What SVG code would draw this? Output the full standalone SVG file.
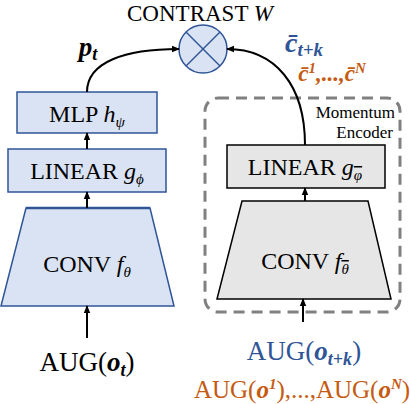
<svg xmlns="http://www.w3.org/2000/svg" width="410" height="404" viewBox="0 0 410 404">
<style>
text{font-family:"Liberation Serif","Times New Roman",serif;fill:#000}
.lbl{font-size:24px}
.it{font-style:italic}
.bi{font-style:italic;font-weight:bold}
.blue{fill:#2f5597}
.orange{fill:#c55a11}
.bar{text-decoration:overline}
.bnode{fill:#dae3f3;stroke:#2f5597;stroke-width:1.5}
.gnode{fill:#e6e6e6;stroke:#000;stroke-width:1.5}
.conn{fill:none;stroke:#000;stroke-width:2}
</style>
<defs>
<marker id="ah" markerWidth="8" markerHeight="8" refX="7" refY="4" orient="auto" markerUnits="userSpaceOnUse">
<path d="M0,0.8 L8,4 L0,7.2 Z" fill="#000"/>
</marker>
</defs>
<rect width="410" height="404" fill="#fff"/>
<g id="momentum">
<rect x="205" y="98" width="195" height="214" rx="13" fill="none" stroke="#808080" stroke-width="3" stroke-dasharray="11,7"/>
<text x="395" y="118" font-size="17" text-anchor="end">Momentum</text>
<text x="393" y="138" font-size="17" text-anchor="end">Encoder</text>
</g>
<g id="contrast">
<circle cx="203" cy="49" r="24" fill="#dae3f3" stroke="#2f5597" stroke-width="1.5"/>
<line x1="186" y1="32" x2="220" y2="66" stroke="#2f5597" stroke-width="1.5"/>
<line x1="220" y1="32" x2="186" y2="66" stroke="#2f5597" stroke-width="1.5"/>
<text x="200" y="21" font-size="23" text-anchor="middle">CONTRAST <tspan class="it">W</tspan></text>
</g>
<g id="mlp">
<rect class="bnode" x="17" y="92" width="140" height="41"/>
<text class="lbl" x="87" y="122" text-anchor="middle">MLP <tspan class="it">h</tspan><tspan class="it" font-size="15" dy="5">ψ</tspan></text>
</g>
<g id="linear">
<rect class="bnode" x="8" y="149" width="158" height="43"/>
<text class="lbl" x="87" y="179" text-anchor="middle">LINEAR <tspan class="it">g</tspan><tspan class="it" font-size="15" dy="5">ϕ</tspan></text>
</g>
<g id="conv">
<polygon class="bnode" points="26,208 150,208 174,306 1,306"/>
<line x1="26" y1="208" x2="150" y2="208" stroke="#2f5597" stroke-width="2.5"/>
<text class="lbl" x="87" y="272" text-anchor="middle">CONV <tspan class="it">f</tspan><tspan class="it" font-size="15" dy="5">θ</tspan></text>
</g>
<g id="linear-m">
<rect class="gnode" x="227" y="145" width="158" height="43"/>
<text class="lbl" x="305" y="175" text-anchor="middle">LINEAR <tspan class="it">g</tspan><tspan class="it bar" font-size="15" dy="5">φ</tspan></text>
</g>
<g id="conv-m">
<polygon class="gnode" points="242,201 368,201 391,299 217,299"/>
<text class="lbl" x="305" y="269" text-anchor="middle">CONV <tspan class="it">f</tspan><tspan class="it bar" font-size="15" dy="5">θ</tspan></text>
</g>
<g id="labels">
<text x="88" y="56" font-size="27" text-anchor="middle"><tspan class="bi">p</tspan><tspan class="bi" font-size="18" dy="4">t</tspan></text>
<text x="304" y="52" font-size="28" text-anchor="middle" class="blue"><tspan class="bi blue">c̄</tspan><tspan class="bi blue" font-size="19" dy="4">t+k</tspan></text>
<text x="332" y="81" font-size="23" text-anchor="middle" class="orange"><tspan class="bi orange">c̄</tspan><tspan class="bi orange" font-size="15" dy="-8">1</tspan><tspan class="bi orange" dy="8">,...,</tspan><tspan class="bi orange">c̄</tspan><tspan class="bi orange" font-size="15" dy="-8">N</tspan></text>
<text x="87" y="371" font-size="27" text-anchor="middle">AUG(<tspan class="bi">o</tspan><tspan class="bi" font-size="18" dy="5">t</tspan><tspan dy="-5">)</tspan></text>
<text x="304" y="360" font-size="27" text-anchor="middle" class="blue">AUG(<tspan class="bi blue">o</tspan><tspan class="bi blue" font-size="18" dy="5">t+k</tspan><tspan dy="-5">)</tspan></text>
<text x="302" y="398" font-size="25" text-anchor="middle" class="orange">AUG(<tspan class="bi orange">o</tspan><tspan class="bi orange" font-size="15" dy="-9">1</tspan><tspan dy="9">),...,AUG(</tspan><tspan class="bi orange">o</tspan><tspan class="bi orange" font-size="15" dy="-9">N</tspan><tspan dy="9">)</tspan></text>
</g>
<g id="connectors">
<path class="conn" d="M87,92 C87,62 125,49 179,49" marker-end="url(#ah)"/>
<path class="conn" d="M305,145 C305,85 275,49 227,49" marker-end="url(#ah)"/>
<line class="conn" x1="87" y1="149" x2="87" y2="133" marker-end="url(#ah)"/>
<line class="conn" x1="87" y1="208" x2="87" y2="192" marker-end="url(#ah)"/>
<line class="conn" x1="87" y1="338" x2="87" y2="306" marker-end="url(#ah)"/>
<line class="conn" x1="305" y1="201" x2="305" y2="188" marker-end="url(#ah)"/>
<line class="conn" x1="303" y1="322" x2="303" y2="299" marker-end="url(#ah)"/>
</g>
</svg>
